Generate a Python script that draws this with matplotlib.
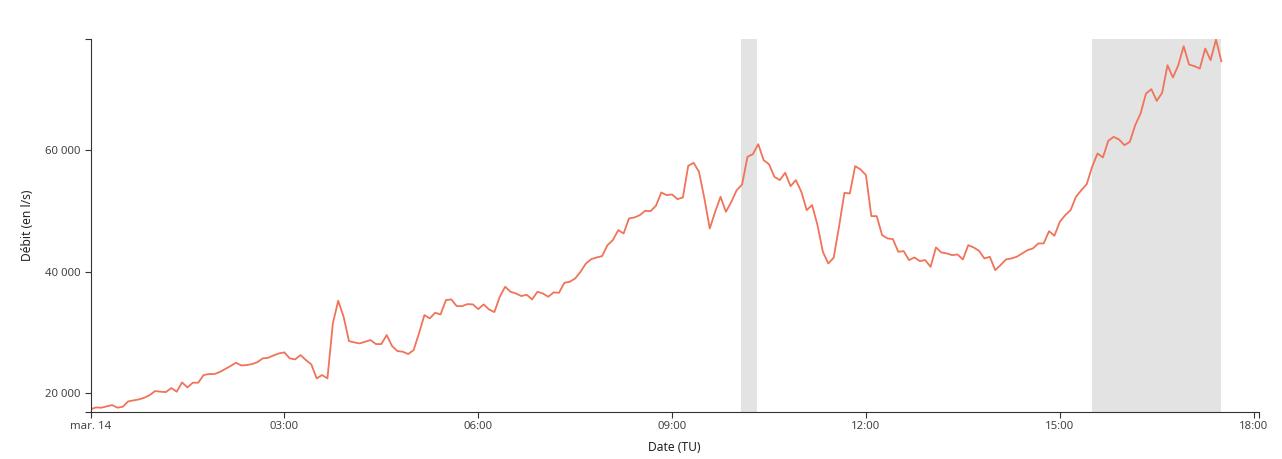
import numpy as np
import matplotlib
matplotlib.use("Agg")
import matplotlib.pyplot as plt
from matplotlib.ticker import FuncFormatter

plt.rcParams['font.family'] = ['Noto Sans', 'DejaVu Sans']

# débit mesuré toutes les 5 minutes à partir de 00:00 (l/s)
debit = [
    17370, 17690, 17640, 17860, 18080, 17640, 17800, 18680, 18840, 19010,
    19280, 19720, 20380, 20270, 20210, 20870, 20270, 21800, 20980, 21750,
    21750, 23010, 23170, 23170, 23500, 23990, 24490, 25030, 24590, 24650,
    24810, 25140, 25750, 25850, 26240, 26570, 26730, 25750, 25580, 26290,
    25470, 24760,
    22460, 23010, 22460, 31500, 35220, 32590, 28590, 28370, 28210, 28480,
    28760, 28100, 28100, 29580, 27770, 26950, 26840, 26460, 27110, 29850,
    32860, 32320, 33250, 32970, 35330, 35440, 34340, 34340, 34670, 34620,
    33850, 34620, 33800, 33360, 35880, 37520, 36700, 36420, 35990, 36210,
    35440, 36700,
    36420, 35880, 36590, 36530, 38180, 38340, 38890, 39980, 41350, 42060,
    42340, 42560, 44360, 45190, 46830, 46280, 48750, 48910, 49290, 50010,
    49950, 50830, 53020, 52580, 52690, 51920, 52200, 57400, 57890, 56410,
    52030, 47100, 49840, 52310, 49840, 51480, 53400, 54330, 58880, 59320,
    60960, 58330,
    57650, 55590, 55050, 56250, 54060, 55050, 53130, 50120, 50940, 47650,
    43270, 41350, 42280, 47380, 52960, 52850, 57350, 56800, 55870, 49130,
    49130, 46010, 45460, 45350, 43270, 43380, 41900, 42340, 41740, 41900,
    40800, 43980, 43160, 43000, 42720, 42830, 42010, 44360, 43980, 43430,
    42170, 42450,
    40250, 41080, 42010, 42170, 42450, 42990, 43540, 43820, 44640, 44640,
    46660, 45900, 48200, 49290, 50110, 52310, 53400, 54390, 57230, 59430,
    58770, 61510, 62160, 61730, 60790, 61340, 64080, 66000, 69280, 70000,
    68080, 69390, 73940, 71910, 73940, 77060, 74050, 73780, 73390, 76680,
    74760, 78160, 74600,
]
heures = np.arange(len(debit)) * 5 / 60

# périodes grisées (heures décimales)
bandes = [(10 + 4 / 60, 10 + 19 / 60), (15.5, 17.5)]

x_ticks = [0, 3, 6, 9, 12, 15, 18]
x_labels = ["mar. 14", "03:00", "06:00", "09:00", "12:00", "15:00", "18:00"]
y_ticks = [20000, 40000, 60000]

x_max = 18 + 5 / 60
y_min, y_max = 16980, 78190

fig = plt.figure(figsize=(12.82, 4.59), dpi=100)
ax = fig.add_axes([0.0706, 0.103, 0.9115, 0.8113])

for a, b in bandes:
    ax.axvspan(a, b, color='#e3e3e3', lw=0, zorder=0)

ax.plot(heures, debit, color='#f0735a', lw=1.3, zorder=2)

ax.set_xlim(0, x_max)
ax.set_ylim(y_min, y_max)

ax.set_xticks(x_ticks)
ax.set_xticklabels(x_labels)
ax.set_yticks(y_ticks)
ax.yaxis.set_major_formatter(FuncFormatter(lambda v, p: f"{int(v):,}".replace(",", " ")))
# petits traits aux extrémités des axes, façon d3
ax.set_xticks([x_max], minor=True)
ax.set_yticks([y_min, y_max], minor=True)

for s in ['top', 'right']:
    ax.spines[s].set_visible(False)
for s in ['left', 'bottom']:
    ax.spines[s].set_color('#333333')
    ax.spines[s].set_linewidth(0.8)

ax.tick_params(which='both', length=4.5, width=0.8, color='#333333',
               labelsize=8.2, labelcolor='#444444', pad=2.5)

ax.set_ylabel("Débit (en l/s)", fontsize=8.7, color='#222222', labelpad=8)
ax.set_xlabel("Date (TU)", fontsize=8.7, color='#222222', labelpad=6)

fig.savefig("out.png", dpi=100)
